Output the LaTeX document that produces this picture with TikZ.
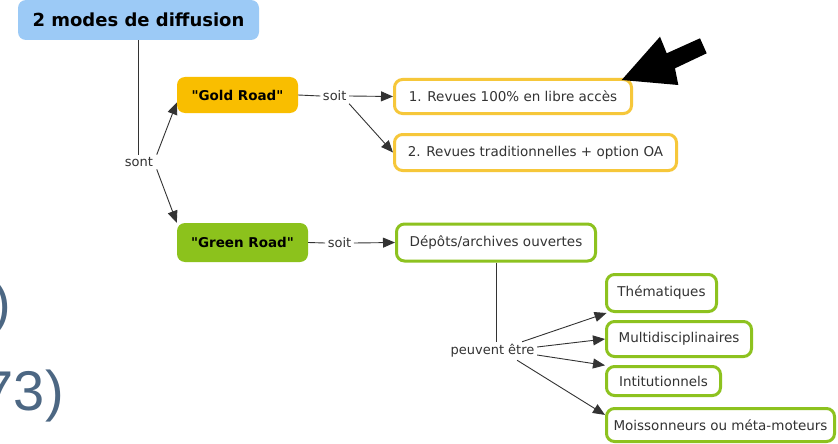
\documentclass[tikz,border=0pt]{standalone}
\usepackage{fontspec}
\setmainfont{DejaVu Sans}
\newfontfamily\bigfont{Liberation Sans}
\usetikzlibrary{arrows.meta}
\definecolor{titleblue}{HTML}{9CCAF6}
\definecolor{goldfill}{HTML}{F9BE00}
\definecolor{greenfill}{HTML}{8CC21C}
\definecolor{goldline}{HTML}{F6C73A}
\definecolor{greenline}{HTML}{8DC21F}
\definecolor{txt}{HTML}{333333}
\definecolor{edgecol}{HTML}{333333}
\definecolor{slate}{HTML}{4C6783}
\begin{document}
\begin{tikzpicture}[x=1pt,y=-1pt,
  basebox/.style={rounded corners=8pt, inner sep=0pt, text=txt,
    font=\fontsize{13.5}{15}\selectfont},
  titlebox/.style={basebox, fill=titleblue, text=black,
    font=\fontsize{18}{20}\selectfont\bfseries},
  goldbox/.style={basebox, fill=goldfill, text=black,
    font=\fontsize{13.5}{15}\selectfont\bfseries},
  greenbox/.style={basebox, fill=greenfill, text=black,
    font=\fontsize{13.5}{15}\selectfont\bfseries},
  goldout/.style={basebox, draw=goldline, line width=3pt, fill=white},
  greenout/.style={basebox, draw=greenline, line width=3pt, fill=white},
  lbl/.style={inner sep=2.5pt, text=txt, font=\fontsize{13}{15}\selectfont},
  link/.style={draw=edgecol, line width=0.9pt},
  arr/.style={link, -{Triangle[length=12pt,width=10pt]}},
  bigtxt/.style={inner sep=0pt, text=slate, font=\bigfont\fontsize{56}{60}\selectfont}
]
\useasboundingbox (0,0) rectangle (838,444);
\clip (0,0) rectangle (838,444);
\fill[white] (0,0) rectangle (838,444);

% big partial text at the left
\node[bigtxt, anchor=base east] (par1) at (11,322) {)};
\node[bigtxt, anchor=base east] (par2) at (64,410) {73)};

% nodes
\node[titlebox, minimum width=241pt, minimum height=40pt] (title) at (138.5,20) {2 modes de diffusion};
\node[goldbox, minimum width=121pt, minimum height=36pt] (gold) at (237.5,95) {\textquotedbl Gold Road\textquotedbl};
\node[greenbox, minimum width=131pt, minimum height=39pt] (green) at (242.5,242.5) {\textquotedbl Green Road\textquotedbl};

\node[goldout, minimum width=237pt, minimum height=34pt] (b1) at (513,96.5) {1. Revues 100\% en libre accès};
\node[goldout, minimum width=282pt, minimum height=36pt] (b2) at (535.5,152.5) {2. Revues traditionnelles + option OA};
\node[greenout, minimum width=199pt, minimum height=37pt] (dep) at (496,242.5) {Dépôts/archives ouvertes};
\node[greenout, minimum width=110pt, minimum height=37pt] (them) at (661.5,293) {Thématiques};
\node[greenout, minimum width=145pt, minimum height=35pt] (multi) at (679,339) {Multidisciplinaires};
\node[greenout, minimum width=114pt, minimum height=29pt] (inti) at (663.5,381) {Intitutionnels};
\node[greenout, minimum width=228pt, minimum height=33pt] (moiss) at (720.5,425) {Moissonneurs ou méta-moteurs};

% link labels
\node[lbl] (sont) at (139,162) {sont};
\node[lbl] (soit1) at (334.7,96) {soit};
\node[lbl] (soit2) at (339.5,243) {soit};
\node[lbl] (peut) at (492.5,351) {peuvent être};

% connectors
\draw[link] (title.south) -- (title.south |- sont.north);
\draw[arr] ([xshift=1pt]sont.north east) -- (gold.187);
\draw[arr] ([xshift=1pt]sont.south east) -- (green.north west);
\draw[link] (gold.east) -- (soit1.west);
\draw[arr] (soit1.east) -- (b1.west);
\draw[arr] (soit1.south east) -- (b2.west);
\draw[link] (green.east) -- (soit2.west);
\draw[arr] (soit2.east) -- (dep.west);
\draw[link] (dep.south) -- (dep.south |- peut.north);
\draw[arr] ([xshift=-15pt]peut.north east) -- (them.200);
\draw[arr] ([yshift=4pt]peut.east) -- (multi.west);
\draw[arr] ([yshift=-4pt]peut.east) -- (inti.165);
\draw[arr] ([xshift=-20pt]peut.south east) -- (moiss.175);

% big black pointer arrow
\fill[black] (621.7,80) -- (660,36.7) -- (666.7,53.3) -- (700,38.3)
  -- (706.7,53.3) -- (675,68.3) -- (678.3,85) -- cycle;
\end{tikzpicture}
\end{document}
